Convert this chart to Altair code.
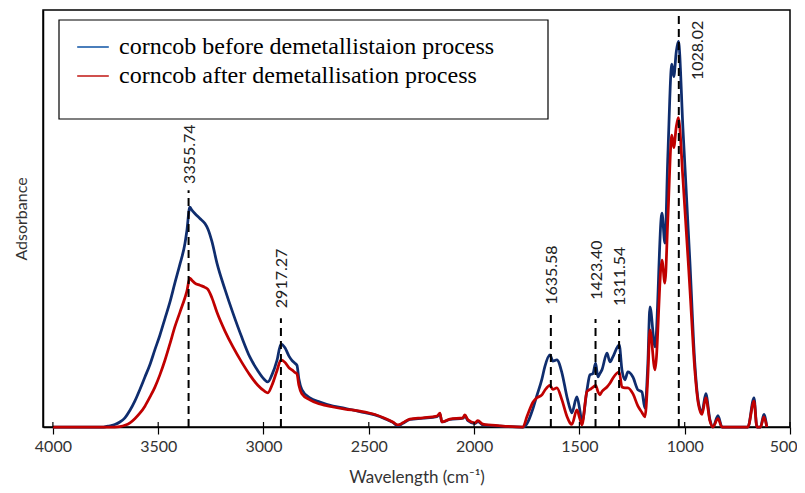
import altair as alt
import pandas as pd

# ---------------- data ----------------
WAVENUMBER = [4000, 3760, 3729, 3706, 3682, 3658, 3634, 3611, 3587, 3563, 3539, 3516, 3492,
              3468, 3444, 3421, 3397, 3373, 3364, 3350, 3340, 3326, 3302, 3278, 3264, 3245,
              3221, 3183, 3145, 3103, 3065, 3027, 2998, 2979, 2960, 2936, 2917, 2898, 2879,
              2865, 2851, 2841, 2832, 2818, 2780, 2732, 2670, 2613, 2542, 2471, 2424, 2386,
              2362, 2338, 2305, 2243, 2177, 2162, 2153, 2115, 2053, 2044, 2029, 1996, 1982,
              1958, 1878, 1768, 1749, 1720, 1702, 1678, 1664, 1640, 1626, 1607, 1583, 1559,
              1545, 1536, 1512, 1498, 1488, 1464, 1450, 1436, 1423, 1412, 1403, 1393, 1369,
              1355, 1341, 1311, 1298, 1284, 1270, 1246, 1222, 1203, 1189, 1175, 1165, 1141,
              1108, 1094, 1080, 1061, 1052, 1040, 1030, 1008, 975, 952, 935, 918, 900, 880,
              866, 842, 823, 700, 671, 657, 640, 624, 610]

BEFORE = [0, 0, 0.003, 0.006, 0.012, 0.022, 0.04, 0.062, 0.09, 0.12, 0.15, 0.185, 0.22,
          0.26, 0.30, 0.345, 0.39, 0.44, 0.47, 0.527, 0.52, 0.512, 0.50, 0.488, 0.475, 0.445,
          0.393, 0.33, 0.273, 0.215, 0.168, 0.135, 0.115, 0.108, 0.125, 0.16, 0.199, 0.19, 0.17,
          0.16, 0.153, 0.148, 0.115, 0.09, 0.07, 0.06, 0.05, 0.045, 0.037, 0.029, 0.02, 0.011,
          0.003, 0.009, 0.018, 0.021, 0.025, 0.031, 0.012, 0.018, 0.021, 0.027, 0.015, 0.008, 0.013,
          0.005, 0.002, 0, 0.008, 0.045, 0.075, 0.115, 0.145, 0.173, 0.158, 0.161, 0.13, 0.072,
          0.045, 0.034, 0.072, 0.041, 0.012, 0.089, 0.125, 0.128, 0.153, 0.12, 0.128, 0.137, 0.177,
          0.156, 0.168, 0.197, 0.137, 0.113, 0.132, 0.12, 0.089, 0.084, 0.045, 0.153, 0.288, 0.192,
          0.513, 0.441, 0.65, 0.87, 0.84, 0.90, 0.925, 0.712, 0.393, 0.153, 0.06, 0.035, 0.08, 0.017,
          0, 0.027, 0, 0, 0.07, 0, 0, 0.03, 0]

AFTER = [0, 0, 0, 0, 0.001, 0.004, 0.01, 0.02, 0.033, 0.05, 0.072, 0.095, 0.125,
         0.16, 0.2, 0.24, 0.275, 0.31, 0.325, 0.357, 0.352, 0.345, 0.34, 0.335, 0.33, 0.31,
         0.275, 0.23, 0.192, 0.155, 0.125, 0.1, 0.087, 0.082, 0.1, 0.135, 0.161, 0.155, 0.142,
         0.137, 0.131, 0.127, 0.1, 0.08, 0.065, 0.055, 0.048, 0.043, 0.038, 0.03, 0.021, 0.012,
         0.005, 0.01, 0.019, 0.022, 0.026, 0.033, 0.012, 0.019, 0.022, 0.029, 0.017, 0.01, 0.015,
         0.007, 0.003, 0, 0.025, 0.06, 0.07, 0.077, 0.088, 0.1, 0.09, 0.094, 0.065, 0.025,
         0.01, 0.006, 0.041, 0.02, 0.005, 0.085, 0.09, 0.095, 0.1, 0.085, 0.077, 0.085, 0.096,
         0.105, 0.117, 0.132, 0.096, 0.094, 0.094, 0.08, 0.05, 0.035, 0.024, 0.12, 0.233, 0.137,
         0.4, 0.345, 0.5, 0.70, 0.67, 0.72, 0.742, 0.592, 0.329, 0.137, 0.055, 0.03, 0.07, 0.014,
         0, 0.02, 0, 0, 0.062, 0, 0, 0.024, 0]

SERIES = ["corncob before demetallistaion process", "corncob after demetallisation process"]

PEAK_POS = [3355.74, 2917.27, 1635.58, 1423.40, 1311.54]
PEAK_TEXT = ["3355.74", "2917.27", "1635.58", "1423.40", "1311.54"]
PEAK_LINE_TOP = [0.568, 0.261, 0.276, 0.259, 0.257]
PEAK_TEXT_BASE = [0.583, 0.285, 0.293, 0.305, 0.290]

MAIN_PEAK_POS = [1028.02]
MAIN_PEAK_TEXT = ["1028.02"]
MAIN_PEAK_LINE_TOP = [0.993]
MAIN_PEAK_TEXT_BASE = [0.832]

X_TICKS = [4000, 3500, 3000, 2500, 2000, 1500, 1000, 500]

LINE_COLORS = ["#0f2d6e", "#c00000"]
LEGEND_COLORS = ["#4a7ebb", "#d0504d"]

# ---------------- tables ----------------
n = len(WAVENUMBER)
df = pd.DataFrame({
    "wavenumber": WAVENUMBER * 2,
    "absorbance": BEFORE + AFTER,
    "series": [SERIES[0]] * n + [SERIES[1]] * n,
})
peaks = pd.DataFrame({"pos": PEAK_POS, "text": PEAK_TEXT,
                      "top": PEAK_LINE_TOP, "base": PEAK_TEXT_BASE})
main_peak = pd.DataFrame({"pos": MAIN_PEAK_POS, "text": MAIN_PEAK_TEXT,
                          "top": MAIN_PEAK_LINE_TOP, "base": MAIN_PEAK_TEXT_BASE})
all_peaks = pd.concat([peaks, main_peak], ignore_index=True)
all_peaks["floor"] = 0.0
ticks = pd.DataFrame({"pos": X_TICKS})
one = pd.DataFrame({"a": [0]})

W, H = 747, 417
FONT = "Lato"

xscale = alt.Scale(domain=[500, 4047], reverse=True, nice=False, zero=False)
yscale = alt.Scale(domain=[0, 1], nice=False, zero=False)

x_axis = alt.Axis(values=X_TICKS, title="Wavelength (cm⁻¹)", grid=False, tickSize=7,
                  tickColor="black", tickWidth=1.2, domainColor="black", domainWidth=1.5,
                  labelFont=FONT, labelFontSize=16, labelColor="#333333", labelPadding=4,
                  titleFont=FONT, titleFontSize=17, titleFontWeight="normal",
                  titleColor="#333333", titlePadding=15, format="d",
                  labelFlush=5, labelFlushOffset=7)
y_axis = alt.Axis(title="Adsorbance", labels=False, ticks=False, grid=False,
                  domainColor="black", domainWidth=1.5, titleFont=FONT, titleFontSize=16,
                  titleFontWeight="normal", titleColor="#333333", titlePadding=14)


def X(field):
    return alt.X(field, type="quantitative", scale=xscale, axis=x_axis)


def Y(field):
    return alt.Y(field, type="quantitative", scale=yscale, axis=y_axis)


legend_box = alt.Chart(one).mark_rect(fill="white", stroke="black", strokeWidth=1.2).encode(
    x=alt.value(16), x2=alt.value(505), y=alt.value(10), y2=alt.value(109)
)

lines = alt.Chart(df).mark_line(strokeWidth=2.75, interpolate="monotone").encode(
    x=X("wavenumber"), y=Y("absorbance"),
    color=alt.Color("series:N", scale=alt.Scale(domain=SERIES, range=LINE_COLORS), legend=None),
)

legend_layer = alt.Chart(df).mark_line(opacity=0).encode(
    x=X("wavenumber"), y=Y("absorbance"),
    color=alt.Color("series:N", scale=alt.Scale(domain=SERIES, range=LEGEND_COLORS),
                    legend=alt.Legend(title=None, orient="none", legendX=33, legendY=20,
                                      labelFont="Liberation Serif", labelFontSize=24,
                                      labelColor="black", symbolType="stroke",
                                      symbolSize=1000, symbolStrokeWidth=2, symbolOpacity=1,
                                      rowPadding=-2, labelOffset=9, labelLimit=700,
                                      padding=0)),
)

dash_rules = alt.Chart(all_peaks).mark_rule(
    color="black", strokeWidth=2, strokeDash=[8, 5]
).encode(x=X("pos"), y=Y("floor"), y2="top:Q")

labels = alt.Chart(peaks).mark_text(
    angle=270, align="left", baseline="middle", font=FONT, fontSize=16, color="#222222", dy=1
).encode(x=X("pos"), y=Y("base"), text="text:N")

main_label = alt.Chart(main_peak).mark_text(
    angle=270, align="left", baseline="middle", font=FONT, fontSize=16, color="#222222", dy=19
).encode(x=X("pos"), y=Y("base"), text="text:N")

upper_ticks = alt.Chart(ticks).mark_rule(color="black", strokeWidth=1.2).encode(
    x=X("pos"), y=alt.value(H - 5), y2=alt.value(H)
)

chart = alt.layer(
    legend_box, lines, legend_layer, dash_rules, labels, main_label, upper_ticks
).resolve_scale(color="independent").properties(
    width=W, height=H,
    autosize=alt.AutoSizeParams(type="none"),
    padding={"left": 35, "top": 2, "right": 7, "bottom": 66},
    background="white",
).configure_view(stroke="black", strokeWidth=1.5)

chart.save("out.html", embed_options={"renderer": "svg", "actions": False})
